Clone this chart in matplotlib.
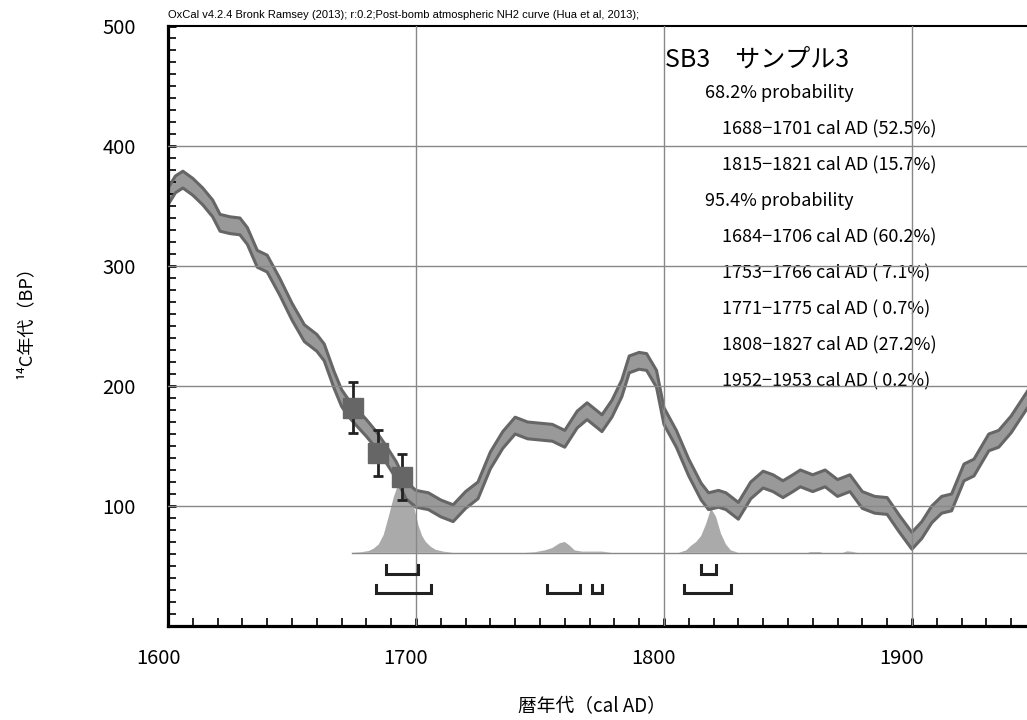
import matplotlib
matplotlib.use("Agg")
import matplotlib.pyplot as plt
from matplotlib.ticker import MultipleLocator
from matplotlib.transforms import ScaledTranslation

plt.rcParams['font.family'] = ['Noto Sans CJK JP', 'DejaVu Sans']

# calibration curve: centre of the band (BP)
curve_years = [1600, 1603, 1606, 1610, 1614, 1618, 1621, 1625, 1629, 1632,
               1636, 1640, 1645, 1650, 1655, 1660, 1663, 1667, 1670, 1673,
               1676, 1680, 1684, 1688, 1692, 1696, 1700, 1705, 1710, 1715,
               1720, 1725, 1730, 1735, 1740, 1745, 1750, 1755, 1760, 1765,
               1769, 1775, 1779, 1783, 1786, 1790, 1793, 1797, 1800, 1805,
               1810, 1815, 1818, 1822, 1825, 1830, 1835, 1840, 1844, 1848,
               1852, 1855, 1860, 1865, 1870, 1875, 1880, 1885, 1890, 1895,
               1900, 1904, 1908, 1912, 1916, 1921, 1925, 1931, 1935, 1940,
               1947]
curve_bp = [358, 368, 372, 366, 358, 348, 336, 334, 333, 325,
            306, 302, 283, 262, 244, 236, 228, 205, 190, 181,
            174, 165, 155, 143, 130, 113, 106, 104, 98, 94,
            105, 113, 138, 155, 167, 163, 162, 161, 156, 172,
            179, 169, 181, 198, 218, 221, 220, 206, 175, 156,
            132, 112, 104, 106, 104, 96, 113, 122, 119, 114,
            119, 123, 119, 123, 115, 119, 105, 101, 100, 85,
            71, 80, 93, 101, 103, 128, 132, 153, 156, 168,
            190]
curve_sigma = 7

# measured 14C dates
date_years = [1674.5, 1684.5, 1694.5]
date_bp = [182, 144, 124]
date_err = [21, 19, 19]

# calibrated probability distribution, height above its baseline
dist_base = 61
dist_years = [1674, 1678, 1681, 1683, 1685, 1687, 1689, 1691, 1693, 1695,
              1697, 1699, 1701, 1702.5, 1704, 1706, 1708, 1711, 1715, 1744,
              1748, 1752, 1755, 1758, 1760, 1762, 1764, 1767, 1775, 1777,
              1779, 1806, 1809, 1811, 1813, 1815, 1817, 1819, 1821, 1823,
              1825, 1827, 1830, 1858, 1859, 1863, 1864, 1872, 1874, 1876,
              1878, 1950]
dist_height = [0, 0.5, 1.5, 3.5, 7, 15, 30, 46, 58, 62,
               57, 40, 23, 14, 9, 5, 2.5, 1, 0, 0,
               0.5, 2, 4, 8, 9, 6, 2, 1, 1, 0.5,
               0, 0, 2, 6, 9, 14, 24, 37, 30, 16,
               7, 2, 0, 0, 0.6, 0.6, 0, 0, 1.2, 0.8,
               0, 0]

range_68 = [(1688, 1701), (1815, 1821)]
range_95 = [(1684, 1706), (1753, 1766), (1771, 1775), (1808, 1827)]

title = "SB3\u3000サンプル3"
prob_lines = [
    ("68.2% probability", 0),
    ("1688\u22121701 cal AD (52.5%)", 1),
    ("1815\u22121821 cal AD (15.7%)", 1),
    ("95.4% probability", 0),
    ("1684\u22121706 cal AD (60.2%)", 1),
    ("1753\u22121766 cal AD ( 7.1%)", 1),
    ("1771\u22121775 cal AD ( 0.7%)", 1),
    ("1808\u22121827 cal AD (27.2%)", 1),
    ("1952\u22121953 cal AD ( 0.2%)", 1),
]
header = ("OxCal v4.2.4 Bronk Ramsey (2013); r:0.2;"
          "Post-bomb atmospheric NH2 curve (Hua et al, 2013);")

fig = plt.figure(figsize=(10.27, 7.2), dpi=100)
ax = fig.add_axes([168 / 1027, 94 / 720, 859 / 1027, 600 / 720])
ax.set_xlim(1600, 1946.4)
ax.set_ylim(0, 500)

# calibration band
lower = [v - curve_sigma for v in curve_bp]
upper = [v + curve_sigma for v in curve_bp]
ax.fill_between(curve_years, lower, upper, facecolor="#999999", edgecolor="none", zorder=1.5)
ax.plot(curve_years, upper, color="#666666", lw=2.2, solid_joinstyle="round", zorder=1.6)
ax.plot(curve_years, lower, color="#666666", lw=2.2, solid_joinstyle="round", zorder=1.6)

# probability distribution
ax.fill_between(dist_years, dist_base, [dist_base + h for h in dist_height],
                facecolor="#aaaaaa", edgecolor="none", zorder=1.2)
ax.plot([dist_years[0], dist_years[-1]], [dist_base, dist_base], color="#888888", lw=1, zorder=1.3)

# range brackets
def bracket(ranges, level, tick=7):
    for s, e in ranges:
        ax.plot([s, s, e, e], [level + tick, level, level, level + tick],
                color="#222222", lw=2.2, solid_joinstyle="miter", zorder=3)

bracket(range_68, 43.5)
bracket(range_95, 27.5)

# dates with error bars
ax.errorbar(date_years, date_bp, yerr=date_err, fmt="none", ecolor="#222222",
            elinewidth=2, capsize=3.5, capthick=2, zorder=3.5)
ax.plot(date_years, date_bp, ls="none", marker="s", markersize=15,
        color="#666666", zorder=4)

# grid over the plot
for gx in (1700, 1800, 1900):
    ax.axvline(gx, color="#888888", lw=1, zorder=2.6)
for gy in (100, 200, 300, 400):
    ax.axhline(gy, color="#888888", lw=1, zorder=2.6)

# text block
ax.text(1800.4, 471.7, title, fontsize=18, va="center", ha="left", zorder=2.2)
for i, (txt, indent) in enumerate(prob_lines):
    x = 1823.4 if indent else 1816.5
    ax.text(x, 444 - i * 30, txt, fontsize=13, va="center", ha="left", zorder=2.2)

# axes styling
ax.spines["right"].set_visible(False)
ax.spines["left"].set_linewidth(2.3)
ax.spines["bottom"].set_linewidth(2.3)
ax.spines["top"].set_linewidth(1.5)

ax.set_xticks([1600, 1700, 1800, 1900])
ax.set_yticks([100, 200, 300, 400, 500])
ax.xaxis.set_minor_locator(MultipleLocator(10))
ax.yaxis.set_minor_locator(MultipleLocator(10))
ax.tick_params(which="both", direction="in", top=False, right=False, length=6)
ax.tick_params(which="major", width=2, labelsize=14.5)
ax.tick_params(which="minor", width=1.2)
ax.tick_params(axis="x", pad=16)
ax.tick_params(axis="y", pad=23)

shift = ScaledTranslation(-10 / 100, 0, fig.dpi_scale_trans)
for lab in ax.get_xticklabels():
    lab.set_transform(lab.get_transform() + shift)

fig.text(168 / 1027, 1 - 15 / 720, header, fontsize=8, va="center", ha="left",
         family=["Liberation Sans", "DejaVu Sans"])
fig.text(25 / 1027, 1 - 318 / 720, "¹⁴C年代（BP）", rotation=90, fontsize=13,
         va="center", ha="center")
fig.text(592 / 1027, 1 - 707 / 720, "暦年代（cal AD）", fontsize=13.5,
         va="center", ha="center")

fig.savefig("out.png", dpi=100)
